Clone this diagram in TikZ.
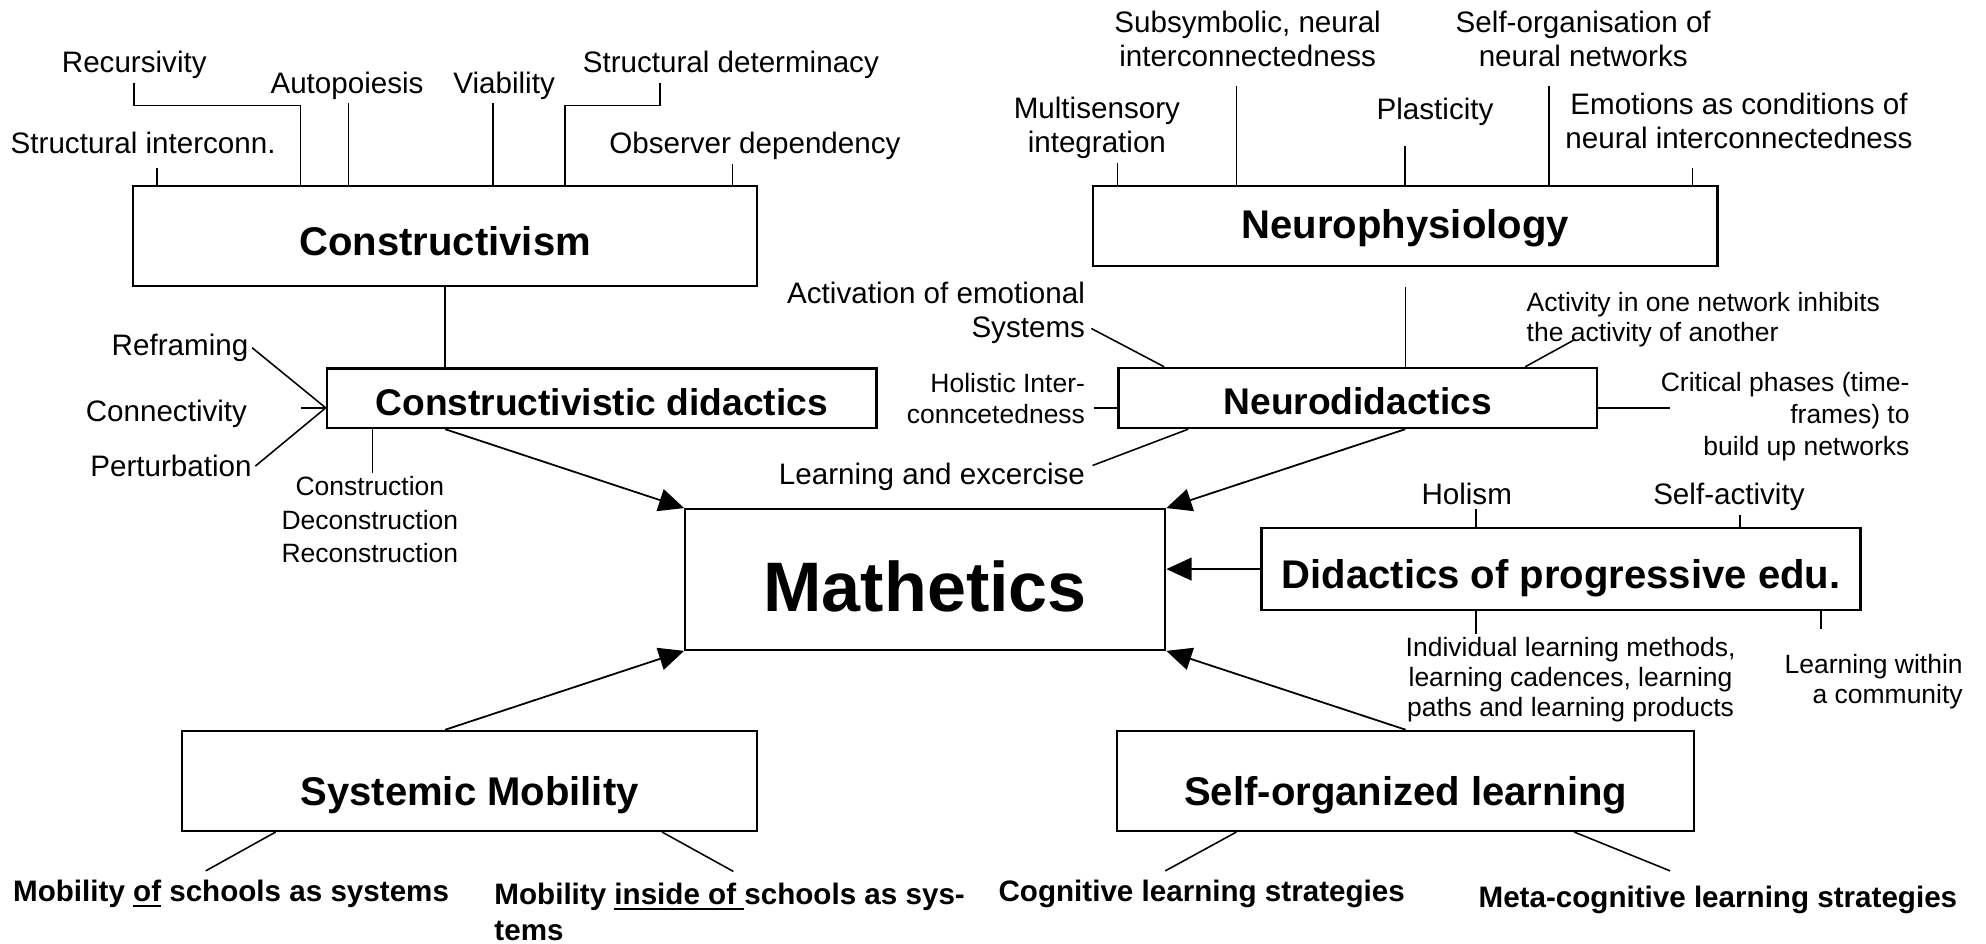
\documentclass[tikz,border=0pt]{standalone}
\usepackage{fontspec}
\setmainfont{Liberation Sans}
\usepackage{tikz}
\usetikzlibrary{
	calc,
	arrows.meta,
	positioning
	}
\tikzstyle{boite-std}=[draw,line width=1pt,inner sep=0pt,text depth=0pt,font=\fontsize{18}{21}\selectfont\bfseries]
\tikzstyle{texte-std}=[inner sep=1.5pt,align=center,font=\fontsize{13.3}{15.3}\selectfont]
\tikzstyle{texte-petit}=[inner sep=1.5pt,align=center,font=\fontsize{11.9}{13.5}\selectfont]
\tikzstyle{texte-gras}=[inner sep=1.5pt,align=left,font=\fontsize{13.3}{16.5}\selectfont\bfseries]
\tikzstyle{trait}=[line width=0.7pt]
\tikzstyle{fleche}=[line width=0.8pt,-{Triangle[length=0.4cm,width=0.36cm]}]
\newcommand{\souligne}[1]{\setbox0\hbox{#1}\rlap{\rule[-2.6pt]{\wd0}{1.1pt}}\box0\relax}

\begin{document}
\begin{tikzpicture}[x=0.02cm,y=-0.02cm]
\useasboundingbox (0,0) rectangle (1568,745);

\node[boite-std,minimum width=9.86cm,minimum height=1.58cm,text height=17.6pt] (cons) at (351.5,186.5) {Constructivism};
\node[boite-std,minimum width=9.86cm,minimum height=1.26cm,text height=11.2pt] (neurophys) at (1109.5,178.5) {Neurophysiology};
\node[boite-std,minimum width=8.68cm,minimum height=0.94cm,text height=15pt,font=\fontsize{16.7}{20}\selectfont\bfseries] (consdid) at (475,314.5) {Constructivistic didactics};
\node[boite-std,minimum width=7.56cm,minimum height=0.95cm,text height=15pt,font=\fontsize{16.7}{20}\selectfont\bfseries] (neurodid) at (1072,314.2) {Neurodidactics};
\node[boite-std,minimum width=7.58cm,minimum height=2.22cm,text height=28.4pt,font=\fontsize{31.5}{36}\selectfont\bfseries] (math) at (730.5,457.5) {Mathetics};
\node[boite-std,minimum width=9.46cm,minimum height=1.29cm,text height=17pt] (progr) at (1232.5,449.3) {Didactics of progressive edu.};
\node[boite-std,minimum width=9.09cm,minimum height=1.58cm,text height=22pt] (sysmob) at (370.75,616.5) {Systemic Mobility};
\node[boite-std,minimum width=9.11cm,minimum height=1.58cm,text height=22pt] (selforg) at (1109.8,616.5) {Self-organized learning};

\node[texte-std] (sint) at (113,113) {Structural interconn.};
\node[texte-std] (recurs) at (106,51.5) {Recursivity};
\node[texte-std] (autop) at (274,67.5) {Autopoiesis};
\node[texte-std] (viab) at (398,67.5) {Viability};
\node[texte-std] (sdet) at (577,51.5) {Structural determinacy};
\node[texte-std] (obs) at (596,115.5) {Observer dependency};

\draw[trait,shorten >=0.16cm] ($(cons.north west)+(20,0)$) coordinate (c1) -- (c1 |- sint.south);
\draw[trait] ($(cons.north west)+(133,0)$) coordinate (c2) -- ++(0,-63) -| (recurs.south);
\draw[trait] ($(cons.north west)+(171,0)$) coordinate (c3) -- (c3 |- autop.south);
\draw[trait] ($(cons.north west)+(285,0)$) coordinate (c4) -- (c4 |- viab.south);
\draw[trait] ($(cons.north west)+(342,0)$) coordinate (c5) -- ++(0,-63) -- ++(75,0) coordinate (c6) -- (c6 |- sdet.south);
\draw[trait] ($(cons.north west)+(474,0)$) coordinate (c7) -- (c7 |- obs.south);

\node[texte-std] (multi) at (866,101) {Multisensory\\integration};
\node[texte-std] (subsym) at (985,30.5) {Subsymbolic, neural\\interconnectedness};
\node[texte-std] (plast) at (1133,88.5) {Plasticity};
\node[texte-std] (selforglab) at (1250,30.5) {Self-organisation of\\neural networks};
\node[texte-std] (emot) at (1373,95.5) {Emotions as conditions of\\neural interconnectedness};

\draw[trait] ($(neurophys.north west)+(20,0)$) coordinate (n1) -- (n1 |- multi.south);
\draw[trait,shorten >=0.24cm] ($(neurophys.north west)+(114,0)$) coordinate (n2) -- (n2 |- subsym.south);
\draw[trait,shorten >=0.26cm] ($(neurophys.north west)+(247,0)$) coordinate (n3) -- (n3 |- plast.south);
\draw[trait,shorten >=0.24cm] ($(neurophys.north west)+(361,0)$) coordinate (n4) -- (n4 |- selforglab.south);
\draw[trait,shorten >=0.24cm] ($(neurophys.north west)+(474,0)$) coordinate (n5) -- (n5 |- emot.south);

\draw[trait] (cons.south) -- (cons.south |- consdid.north);
\draw[trait,shorten <=0.32cm] (neurophys.south) -- (neurophys.south |- neurodid.north);

\node[texte-std,anchor=east] (refr) at (199,274.5) {Reframing};
\node[texte-std,anchor=east] (conn) at (198,326.5) {Connectivity};
\node[texte-std,anchor=east] (pert) at (201.6,368) {Perturbation};
\node[texte-petit,font=\fontsize{11.9}{15}\selectfont] (constr) at (292,410.4) {Construction\\Deconstruction\\Reconstruction};

\coordinate (cd-w) at ($(consdid.west)+(0,7.5)$);
\draw[trait] (refr.east) -- (cd-w);
\draw[trait,shorten >=0.8cm] (cd-w) -- (cd-w -| conn.east);
\draw[trait] (pert.east) -- (cd-w);
\draw[trait] ($(consdid.south west)+(37,0)$) coordinate (cd-s) -- (cd-s |- constr.north);

\node[texte-std,anchor=east,align=right] (activ) at (859.6,247) {Activation of emotional\\Systems};
\node[texte-petit,anchor=east,align=right,font=\fontsize{11.9}{14.2}\selectfont] (holis) at (859.6,314.5) {Holistic Inter-\\conncetedness};
\node[texte-std,anchor=east] (learn) at (859.6,376.5) {Learning and excercise};
\node[texte-petit,anchor=west,align=left] (inhib) at (1202.4,252) {Activity in one network inhibits\\the activity of another};
\node[texte-petit,anchor=east,align=right,font=\fontsize{11.9}{14.2}\selectfont] (crit) at (1510.6,329) {Critical phases (time-\\frames) to\\build up networks};

\coordinate (nd-w) at ($(neurodid.west)+(0,8)$);
\coordinate (nd-e) at ($(neurodid.east)+(0,8)$);
\draw[trait] ($(activ.south east)+(2,-15)$) -- ($(neurodid.north west)+(37,0)$);
\draw[trait,shorten >=0.09cm] (nd-w) -- (nd-w -| holis.east);
\draw[trait] ($(learn.east)+(3,-9)$) -- ($(neurodid.south west)+(56,0)$);
\draw[trait] ($(neurodid.north west)+(322,0)$) -- ($(inhib.south west)+(40,-8)$);
\draw[trait] (nd-e) -- ($(nd-e -| crit.west)+(10,0)$);

\node[texte-std] (holism) at (1158,390) {Holism};
\node[texte-std] (selfact) at (1365,392.5) {Self-activity};
\node[texte-petit] (indiv) at (1240,536.7) {Individual learning methods,\\learning cadences, learning\\paths and learning products};
\node[texte-petit,anchor=east,align=right] (comm) at (1552.6,538) {Learning within\\a community};

\draw[trait] ($(progr.north west)+(170,0)$) coordinate (p1) -- (p1 |- holism.south);
\draw[trait] ($(progr.north west)+(378.6,0)$) coordinate (p2) -- (p2 |- selfact.south);
\draw[trait] ($(progr.south west)+(170,0)$) coordinate (p3) -- (p3 |- indiv.north);
\draw[trait,shorten >=0.34cm] ($(progr.south west)+(442.6,0)$) coordinate (p4) -- (p4 |- comm.north);

\node[texte-gras,anchor=base west] (mob1) at (7.4,711.5) {Mobility \souligne{of} schools as systems};
\node[texte-gras,anchor=north west] (mob2) at (387.4,694) {Mobility \souligne{inside of }schools as sys-\\tems};
\node[texte-gras,anchor=base west] (cog) at (785.4,711.5) {Cognitive learning strategies};
\node[texte-gras,anchor=base west] (meta) at (1164.4,716.5) {Meta-cognitive learning strategies};

\draw[trait] ($(sysmob.south west)+(75,0)$) -- ($(mob1.north west)+(155,-4)$);
\draw[trait] ($(sysmob.south west)+(380,0)$) -- ($(mob2.north west)+(191.6,-6)$);
\draw[trait] ($(selforg.south west)+(95,0)$) -- ($(cog.north west)+(134.6,-4)$);
\draw[trait] ($(selforg.south west)+(361.6,0)$) -- ($(meta.north west)+(154.2,-9)$);

\draw[fleche] (cons.south |- consdid.south) -- (math.north west);
\draw[fleche] (neurophys.south |- neurodid.south) -- (math.north east);
\draw[fleche] (progr.west) -- (progr.west -| math.east);
\draw[fleche] (cons.south |- sysmob.north) -- (math.south west);
\draw[fleche] (selforg.north) -- (math.south east);
\end{tikzpicture}
\end{document}
